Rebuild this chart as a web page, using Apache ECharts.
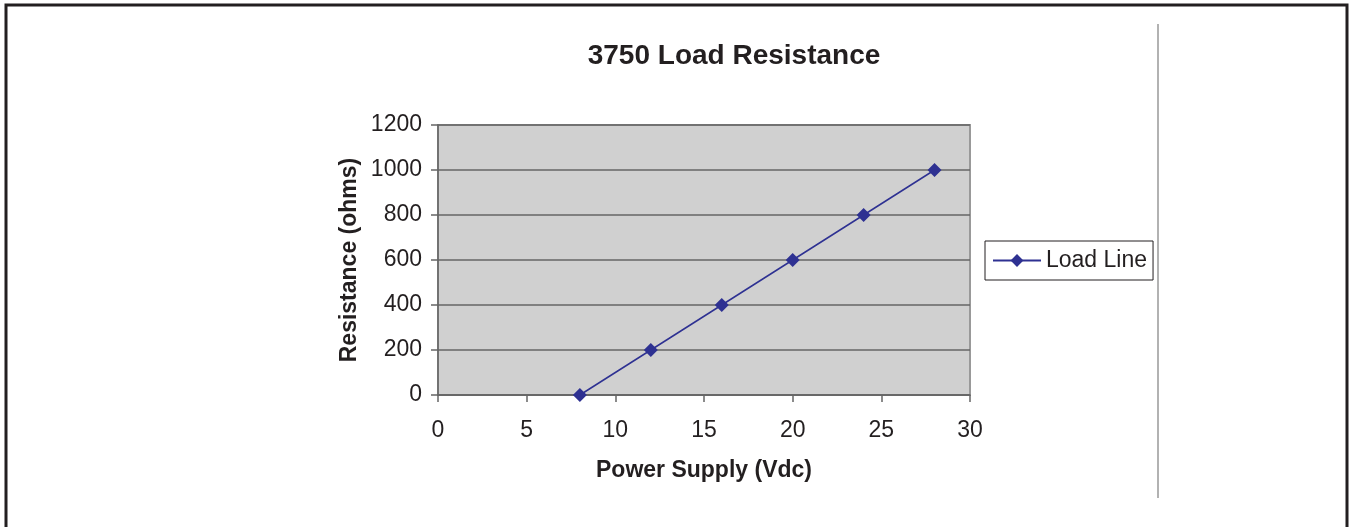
<!DOCTYPE html>
<html><head><meta charset="utf-8">
<script src="https://cdn.jsdelivr.net/npm/echarts@6/dist/echarts.min.js"></script>
<style>html,body{margin:0;padding:0;background:#fff}#c{width:1350px;height:527px}</style>
</head><body><div id="c"></div>
<script>
var xValues = [8, 12, 16, 20, 24, 28];
var yValues = [0, 200, 400, 600, 800, 1000];
var seriesName = 'Load Line';
var titleText = '3750 Load Resistance';
var xName = 'Power Supply (Vdc)';
var yName = 'Resistance (ohms)';

var chart = echarts.init(document.getElementById('c'));
var font = 'Liberation Sans, Arial, sans-serif';
chart.setOption({
  animation: false,
  backgroundColor: '#fff',
  title: {text: titleText, left: 729, top: 37, textAlign: 'center',
    textStyle: {fontFamily: font, fontSize: 28, fontWeight: 'bold', color: '#231f20'}},
  legend: {left: 985, top: 241, width: 167, height: 40, padding: [8, 6, 8, 7],
    borderColor: '#231f20', borderWidth: 1, itemWidth: 48, itemHeight: 16, itemGap: 0,
    textStyle: {fontFamily: font, fontSize: 23, color: '#231f20', padding: [0, 0, 0, 0]},
    data: [seriesName]},
  grid: {left: 438, right: 380, top: 125, bottom: 132, show: true,
    backgroundColor: '#d0d0d0', borderColor: '#999', borderWidth: 2},
  xAxis: {type: 'value', min: 0, max: 30, interval: 5,
    name: xName, nameLocation: 'middle', nameGap: 64,
    nameTextStyle: {fontFamily: font, fontSize: 23, fontWeight: 'bold', color: '#231f20'},
    axisLine: {show: true, onZero: false, lineStyle: {color: '#666', width: 1.5}},
    axisTick: {show: true, length: 7, lineStyle: {color: '#666', width: 1.5}},
    axisLabel: {fontFamily: font, fontSize: 23, color: '#231f20', margin: 24,
      formatter: function (v) { return String(v); }},
    splitLine: {show: false}},
  yAxis: {type: 'value', min: 0, max: 1200, interval: 200,
    name: yName, nameLocation: 'middle', nameGap: 77, nameRotate: 90,
    nameTextStyle: {fontFamily: font, fontSize: 23, fontWeight: 'bold', color: '#231f20'},
    axisLine: {show: true, lineStyle: {color: '#666', width: 1.5}},
    axisTick: {show: true, length: 7, lineStyle: {color: '#666', width: 1.5}},
    axisLabel: {fontFamily: font, fontSize: 23, color: '#231f20', margin: 16,
      padding: [4, 0, 0, 0],
      formatter: function (v) { return String(v); }},
    splitLine: {show: true, lineStyle: {color: '#666', width: 1.5}}},
  series: [{name: seriesName, type: 'line',
    data: xValues.map(function (x, i) { return [x, yValues[i]]; }),
    symbol: 'diamond', symbolSize: 14,
    lineStyle: {color: '#2e3192', width: 1.5},
    itemStyle: {color: '#2e3192'}}],
  graphic: [
    {type: 'polyline', shape: {points: [[6, 540], [6, 5], [1347, 5], [1347, 540]]},
      style: {stroke: '#231f20', lineWidth: 3, fill: null}},
    {type: 'line', shape: {x1: 1158, y1: 24, x2: 1158, y2: 498},
      style: {stroke: '#999', lineWidth: 1.5}}
  ]
});
</script></body></html>
